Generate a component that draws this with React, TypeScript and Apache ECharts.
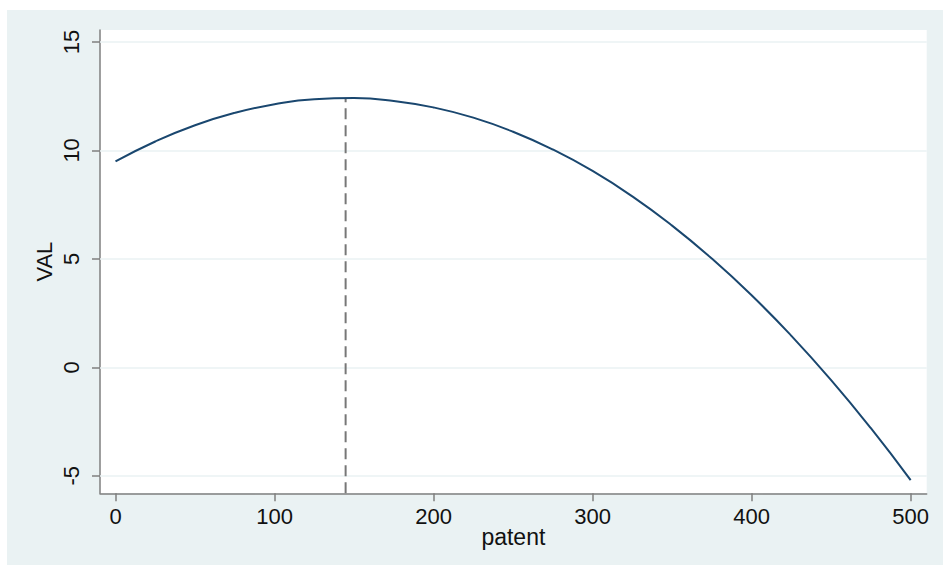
import React, { useEffect, useRef } from "react";
import * as echarts from "echarts";

// Values
const patentValues = [0, 25, 50, 75, 100, 125, 150, 175, 200, 225, 250, 275, 300, 325, 350, 375, 400, 425, 450, 475, 500];
const valValues = [9.49, 10.41, 11.16, 11.73, 12.13, 12.36, 12.41, 12.28, 11.98, 11.51, 10.86, 10.04, 9.05, 7.88, 6.53, 5.01, 3.32, 1.45, -0.59, -2.81, -5.2];
const peakPatent = 144.7;
const peakVal = 12.41;
const xTicks = [0, 100, 200, 300, 400, 500];
const yTicks = [-5, 0, 5, 10, 15];
const xRange = [-9.75, 510.1];
const yRange = [-5.81, 15.55];

export default function App() {
  const ref = useRef<HTMLDivElement>(null);
  useEffect(() => {
    if (!ref.current) return;
    const chart = echarts.init(ref.current, undefined, { renderer: "svg" });
    const font = "Liberation Sans, Arial, sans-serif";
    chart.setOption({
      animation: false,
      backgroundColor: "#ffffff",
      graphic: [
        {
          type: "rect",
          z: -10,
          silent: true,
          shape: { x: 7, y: 10, width: 936, height: 555 },
          style: { fill: "#EAF2F3" },
        },
      ],
      grid: {
        left: 100,
        top: 30,
        right: 16.3,
        bottom: 71.7,
        show: true,
        backgroundColor: "#ffffff",
        borderWidth: 0,
      },
      xAxis: {
        type: "value",
        min: xRange[0],
        max: xRange[1],
        name: "patent",
        nameLocation: "middle",
        nameGap: 32,
        nameMoveOverlap: false,
        nameTextStyle: { fontFamily: font, fontSize: 23, color: "#111" },
        axisLine: { show: true, onZero: false, lineStyle: { color: "#7f7f7f", width: 1.5 } },
        axisTick: { show: true, customValues: xTicks, length: 8, lineStyle: { color: "#7f7f7f", width: 1.5 } },
        axisLabel: { customValues: xTicks, margin: 12, fontFamily: font, fontSize: 22, color: "#111" },
        splitLine: { show: false },
      },
      yAxis: {
        type: "value",
        min: yRange[0],
        max: yRange[1],
        name: "VAL",
        nameLocation: "middle",
        nameGap: 45,
        nameRotate: 90,
        nameMoveOverlap: false,
        nameTextStyle: { fontFamily: font, fontSize: 22, color: "#111" },
        axisLine: { show: true, onZero: false, lineStyle: { color: "#7f7f7f", width: 1.5 } },
        axisTick: { show: true, customValues: yTicks, length: 8, lineStyle: { color: "#7f7f7f", width: 1.5 } },
        axisLabel: { customValues: yTicks, rotate: 90, margin: 18, fontFamily: font, fontSize: 22, color: "#111" },
        splitLine: { show: false },
      },
      series: [
        {
          type: "line",
          data: [],
          z: 1,
          markLine: {
            silent: true,
            z: 1,
            symbol: "none",
            label: { show: false },
            lineStyle: { color: "#EAF2F3", width: 1.5, type: "solid" },
            data: yTicks.map((v) => ({ yAxis: v })),
          },
        },
        {
          type: "line",
          data: [
            [peakPatent, yRange[0]],
            [peakPatent, peakVal],
          ],
          showSymbol: false,
          lineStyle: { color: "#777777", width: 2, type: [11, 6] },
          z: 2,
        },
        {
          type: "line",
          data: patentValues.map((p, i) => [p, valValues[i]]),
          smooth: true,
          showSymbol: false,
          lineStyle: { color: "#1a476f", width: 2 },
          z: 3,
        },
      ],
    });
    return () => chart.dispose();
  }, []);
  return (
    <div
      ref={ref}
      style={{ position: "fixed", left: 0, top: 0, width: 943, height: 565 }}
    />
  );
}
